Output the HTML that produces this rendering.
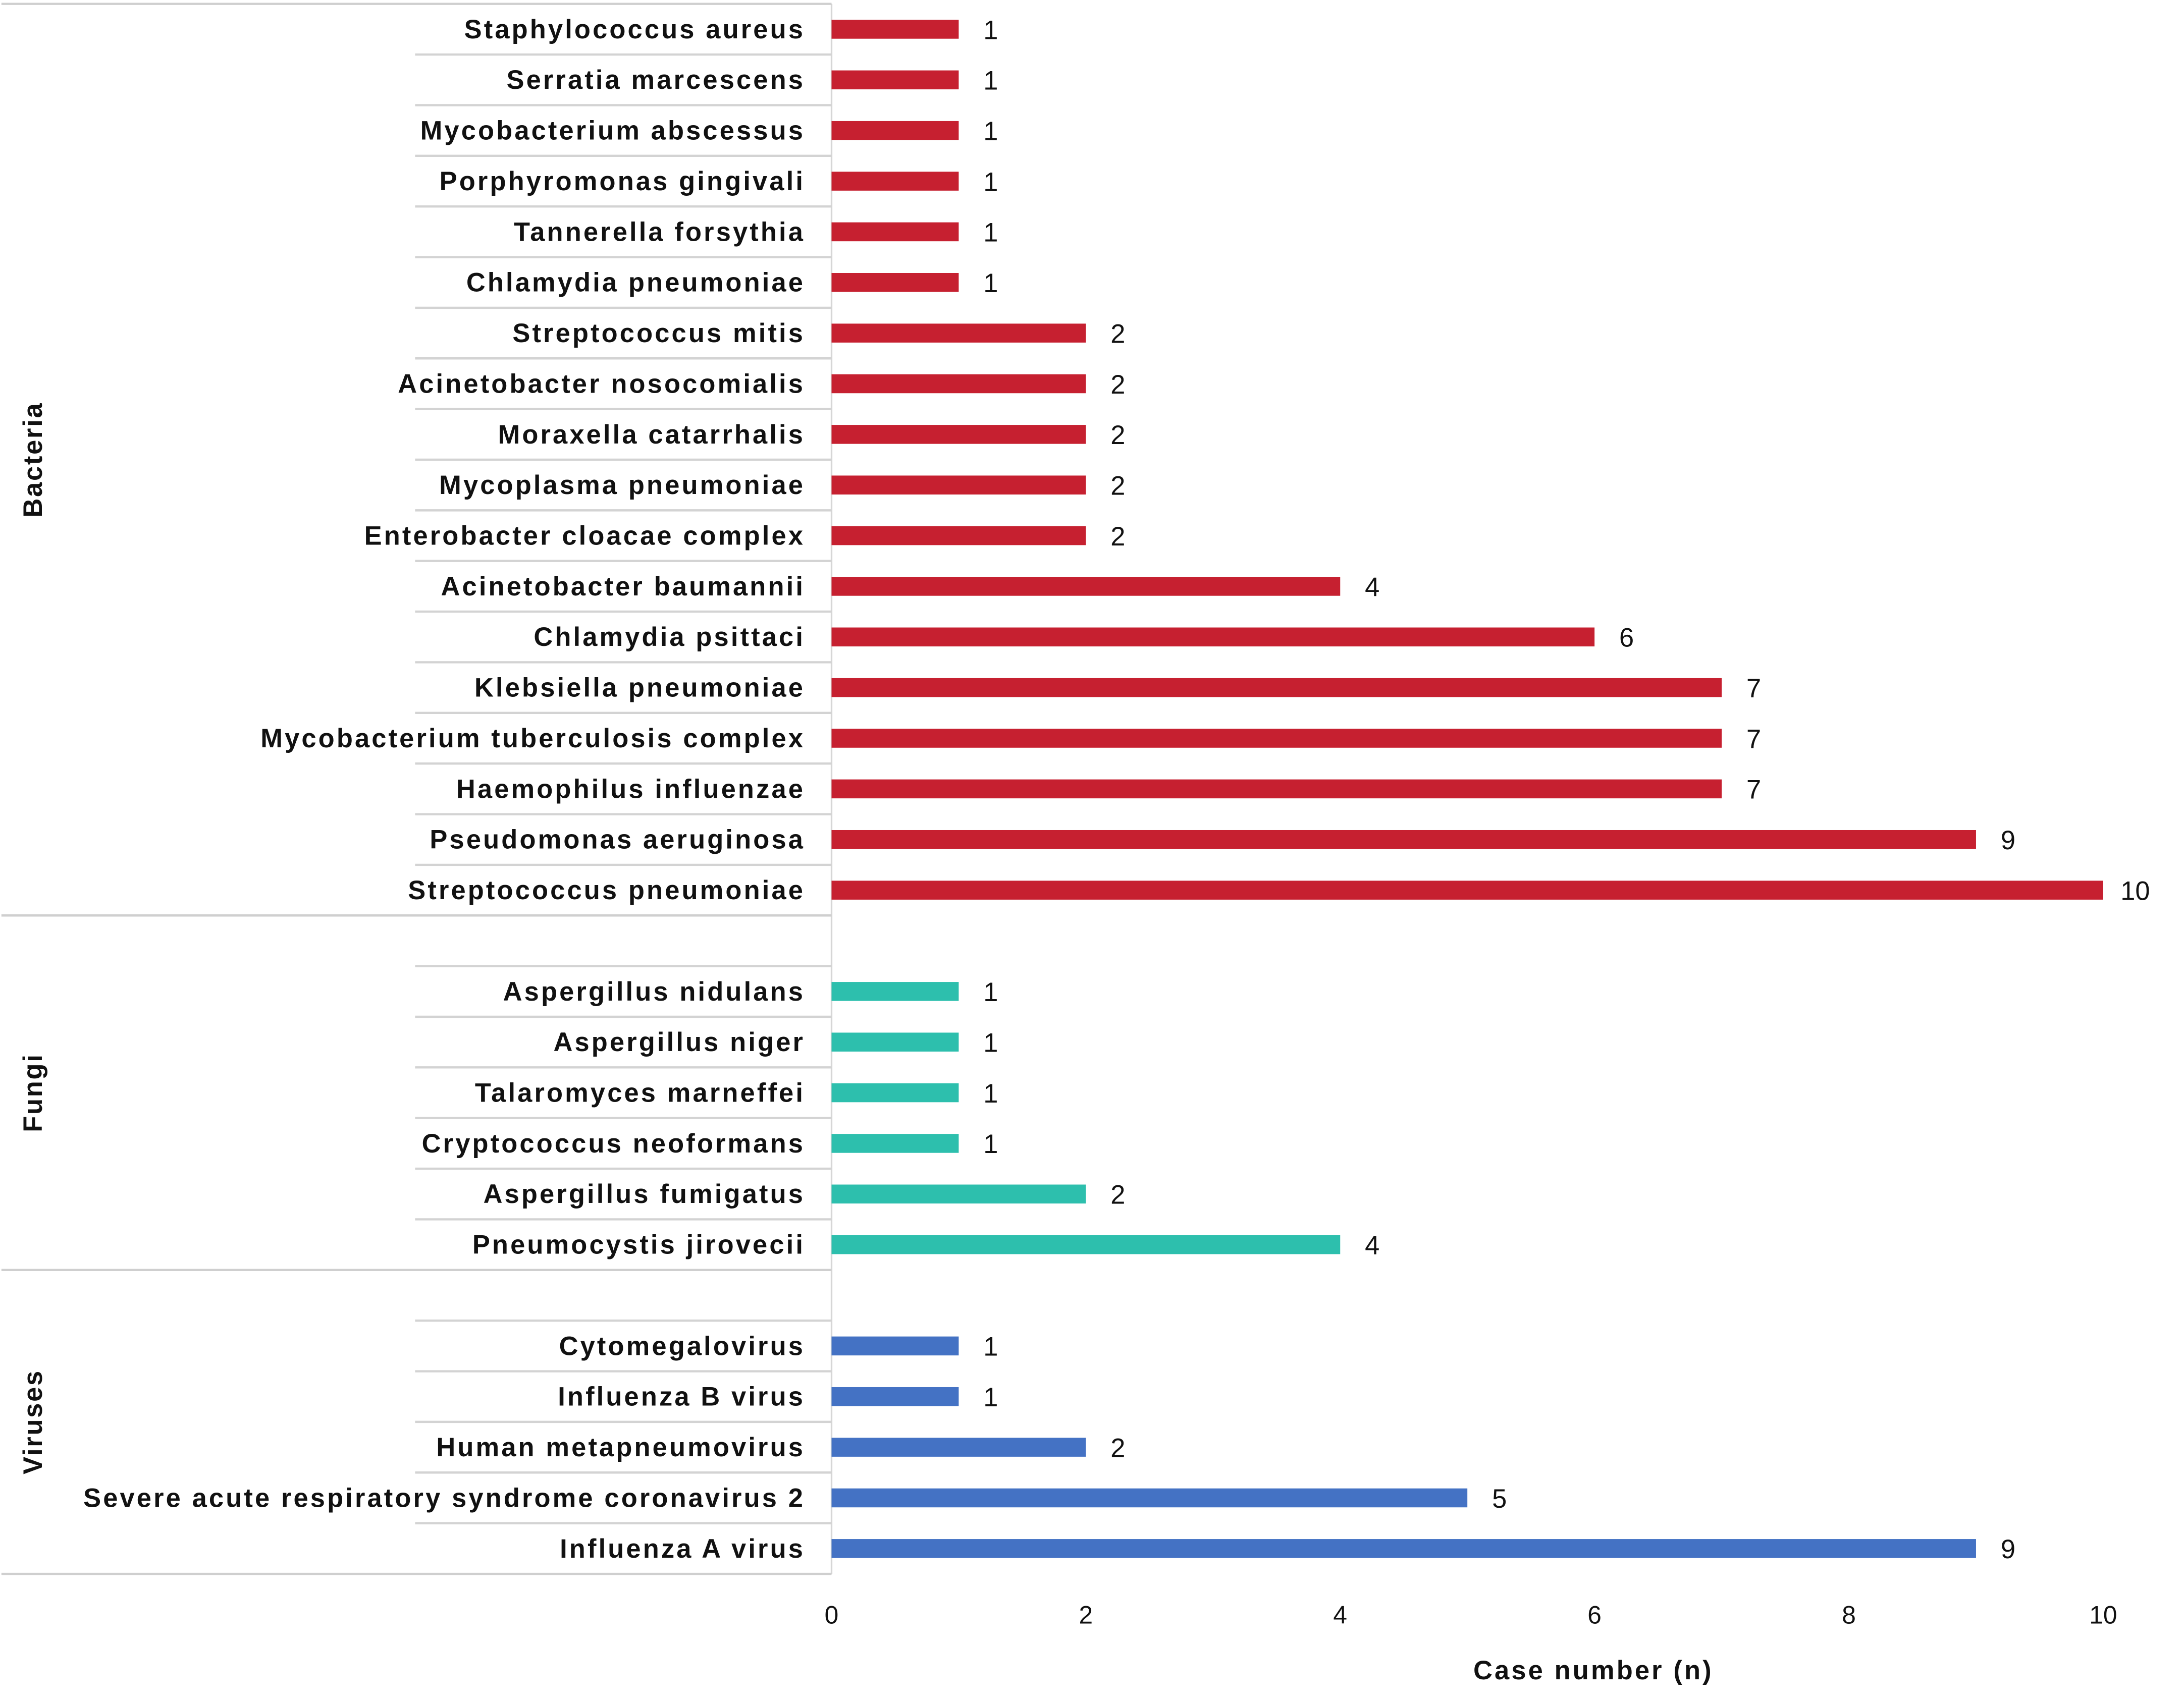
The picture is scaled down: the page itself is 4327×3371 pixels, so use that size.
<!DOCTYPE html>
<html><head><meta charset="utf-8"><style>
html,body{margin:0;padding:0;background:#fff}
svg{display:block}
text{font-family:"Liberation Sans",sans-serif;fill:#111}
</style></head><body>
<svg id="chart" width="4327" height="3371" viewBox="0 0 1568 1221.6" xmlns="http://www.w3.org/2000/svg"></svg>
<script>
const bacteriaNames=["Staphylococcus aureus","Serratia marcescens","Mycobacterium abscessus","Porphyromonas gingivali","Tannerella forsythia","Chlamydia pneumoniae","Streptococcus mitis","Acinetobacter nosocomialis","Moraxella catarrhalis","Mycoplasma pneumoniae","Enterobacter cloacae complex","Acinetobacter baumannii","Chlamydia psittaci","Klebsiella pneumoniae","Mycobacterium tuberculosis complex","Haemophilus influenzae","Pseudomonas aeruginosa","Streptococcus pneumoniae"];
const bacteriaValues=[1,1,1,1,1,1,2,2,2,2,2,4,6,7,7,7,9,10];
const fungiNames=["Aspergillus nidulans","Aspergillus niger","Talaromyces marneffei","Cryptococcus neoformans","Aspergillus fumigatus","Pneumocystis jirovecii"];
const fungiValues=[1,1,1,1,2,4];
const virusNames=["Cytomegalovirus","Influenza B virus","Human metapneumovirus","Severe acute respiratory syndrome coronavirus 2","Influenza A virus"];
const virusValues=[1,1,2,5,9];
const xTicks=[0,2,4,6,8,10];

const svg=document.getElementById('chart');
const NS='http://www.w3.org/2000/svg';
const X0=597,X10=1510,ROW0=21,STEP=36.37;
const xs=v=>X0+(X10-X0)*v/10;
const ys=i=>ROW0+STEP*i;
function mk(tag,attrs,txt){const e=document.createElementNS(NS,tag);for(const k in attrs)e.setAttribute(k,attrs[k]);if(txt!==undefined)e.textContent=txt;svg.appendChild(e);return e;}

const groups=[
 {name:"Bacteria",names:bacteriaNames,vals:bacteriaValues,color:"#C62030",start:0,lead:0},
 {name:"Fungi",names:fungiNames,vals:fungiValues,color:"#2DBFAD",start:19,lead:1},
 {name:"Viruses",names:virusNames,vals:virusValues,color:"#4472C4",start:26,lead:1}
];
const ax=mk('line',{x1:X0,y1:ys(0)-18.2,x2:X0,y2:ys(30)+18.2,stroke:'#d6d6d6','stroke-width':1.2});



groups.forEach(g=>{
  const top=ys(g.start-g.lead)-18.2;
  const bottom=ys(g.start+g.names.length-1)+18.2;
  const gl=mk('line',{x1:1,y1:top,x2:X0,y2:top,stroke:'#cfcfcf','stroke-width':1.6});
  
  
  if(g.name==="Viruses"){
    const bl=mk('line',{x1:1,y1:bottom,x2:X0,y2:bottom,stroke:'#cfcfcf','stroke-width':1.6});
    
    
  }
  const cy=(top+bottom)/2;
  const gt=mk('text',{x:0,y:0,transform:`translate(30,${cy}) rotate(-90)`,'text-anchor':'middle','font-size':19,'font-weight':'bold','letter-spacing':1},g.name);
  
  
  g.names.forEach((n,i)=>{
    const y=ys(g.start+i);
    if(i>0||g.lead){
      const sl=mk('line',{x1:298,y1:y-18.2,x2:X0,y2:y-18.2,stroke:'#d3d3d3','stroke-width':1.6});
      
      
    }
    const lb=mk('text',{x:578,y:y+6.5,'text-anchor':'end','font-size':19,'font-weight':'bold','letter-spacing':1.5},n);
    
    
    const v=g.vals[i];
    const b=mk('rect',{x:X0,y:y-6.8,width:xs(v)-X0,height:13.6,fill:g.color});
    
    
    const vl=mk('text',{x:xs(v)+23,y:y+7,'text-anchor':'middle','font-size':19},String(v));
    
    
  });
});
xTicks.forEach(t=>{
  const tl=mk('text',{x:xs(t),y:1166,'text-anchor':'middle','font-size':18,fill:'#333'},String(t));
  
  
});
const xt=mk('text',{x:1144,y:1206,'text-anchor':'middle','font-size':19,'font-weight':'bold','letter-spacing':1.5},'Case number (n)');


</script>
</body></html>
